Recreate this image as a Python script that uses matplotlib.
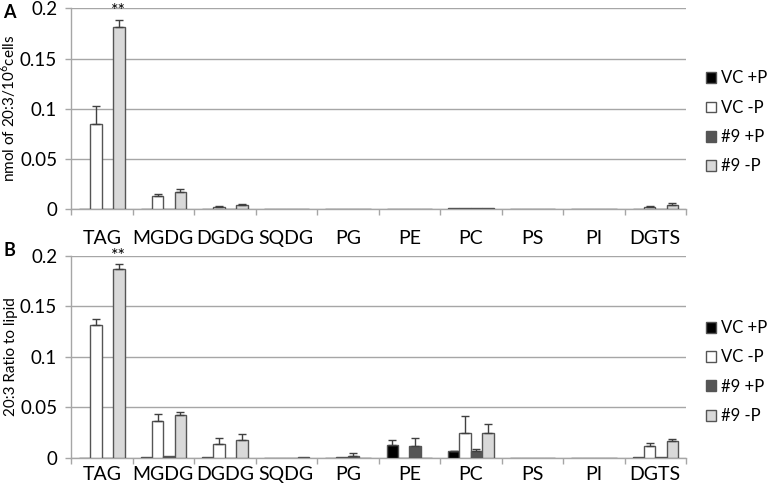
import matplotlib.pyplot as plt
import numpy as np

plt.rcParams['font.family'] = ['Lato', 'DejaVu Sans']
plt.rcParams['mathtext.fontset'] = 'custom'
plt.rcParams['mathtext.rm'] = 'Lato'

lipids = ['TAG', 'MGDG', 'DGDG', 'SQDG', 'PG', 'PE', 'PC', 'PS', 'PI', 'DGTS']
groups = ['VC +P', 'VC -P', '#9 +P', '#9 -P']
fills = ['#000000', '#ffffff', '#555555', '#d9d9d9']

# panel A: nmol of 20:3 / 10^6 cells
a_vc_plus = [0, 0.0005, 0.0005, 0, 0, 0.0005, 0.001, 0, 0, 0.0005]
a_vc_minus = [0.085, 0.013, 0.0025, 0, 0.0005, 0.0003, 0.001, 0, 0, 0.0025]
a_9_plus = [0, 0.0005, 0.0005, 0, 0.0005, 0.0005, 0.001, 0, 0, 0.0005]
a_9_minus = [0.181, 0.017, 0.004, 0.0005, 0, 0.0003, 0.001, 0, 0, 0.0045]
a_err_vc_minus = [0.018, 0.0025, 0.0005, 0, 0, 0, 0, 0, 0, 0.001]
a_err_9_minus = [0.007, 0.003, 0.001, 0, 0, 0, 0, 0, 0, 0.0015]

# panel B: 20:3 ratio to lipid
b_vc_plus = [0, 0.001, 0.001, 0, 0, 0.0123, 0.0063, 0, 0, 0.0005]
b_vc_minus = [0.1317, 0.0366, 0.0136, 0, 0.0005, 0, 0.0242, 0, 0, 0.0119]
b_9_plus = [0, 0.0015, 0, 0, 0.002, 0.0116, 0.007, 0, 0, 0.001]
b_9_minus = [0.1868, 0.042, 0.0175, 0.0005, 0, 0, 0.0248, 0, 0, 0.0162]
b_err_vc_plus = [0, 0, 0, 0, 0, 0.0052, 0.0007, 0, 0, 0]
b_err_vc_minus = [0.0056, 0.0067, 0.0059, 0, 0, 0, 0.0171, 0, 0, 0.0024]
b_err_9_plus = [0, 0, 0, 0, 0.0024, 0.0076, 0.0013, 0, 0, 0]
b_err_9_minus = [0.0047, 0.003, 0.006, 0, 0, 0, 0.0086, 0, 0, 0.002]

fig = plt.figure(figsize=(7.67, 4.92), dpi=100)
ax_a = fig.add_axes([0.0926, 0.5746, 0.8018, 0.4085])
ax_b = fig.add_axes([0.0926, 0.0697, 0.8018, 0.4106])

grid_c = '#a6a6a6'
edge_c = '#555555'
width = 0.185
x = np.arange(len(lipids))


def draw(ax, series, errs, ylabel, star_y, xpad, legend_y):
    for i, (vals, col) in enumerate(zip(series, fills)):
        pos = x + (i - 1.5) * width
        ax.bar(pos, vals, width, color=col, edgecolor=edge_c, linewidth=1.0,
               label=groups[i], zorder=3)
        e = errs[i]
        if e is not None:
            mask = np.array(e) > 0
            ax.errorbar(pos[mask], np.array(vals)[mask],
                        yerr=[np.zeros(mask.sum()), np.array(e)[mask]],
                        fmt='none', ecolor='#404040', elinewidth=1.0,
                        capsize=3, capthick=1.0, zorder=4)
    ax.set_xlim(-0.5, len(lipids) - 0.5)
    ax.set_ylim(0, 0.2)
    ax.set_yticks([0, 0.05, 0.1, 0.15, 0.2])
    ax.set_yticklabels(['0', '0.05', '0.1', '0.15', '0.2'])
    ax.set_xticks(x)
    ax.set_xticklabels(lipids)
    ax.set_xticks(np.arange(-0.5, len(lipids)), minor=True)
    ax.tick_params(axis='x', which='major', length=0, pad=xpad, labelsize=14)
    ax.tick_params(axis='x', which='minor', length=4, color=grid_c, width=1)
    ax.tick_params(axis='y', length=4, color=grid_c, width=1, labelsize=13.5,
                   pad=6)
    ax.yaxis.grid(True, color=grid_c, linewidth=1.0, zorder=0)
    ax.set_axisbelow(True)
    for s in ['top', 'right']:
        ax.spines[s].set_visible(False)
    for s in ['left', 'bottom']:
        ax.spines[s].set_color(grid_c)
        ax.spines[s].set_linewidth(1.0)
    ax.set_ylabel(ylabel, fontsize=11)
    ax.yaxis.set_label_coords(-0.086, 0.5)
    ax.text(x[0] + 1.5 * width, star_y, '**', ha='center', va='bottom',
            fontsize=13, zorder=5)
    leg = ax.legend(loc='center left', bbox_to_anchor=(1.032, legend_y),
                    frameon=False, fontsize=12, handlelength=0.62,
                    handleheight=0.62, handletextpad=0.3, labelspacing=0.8,
                    borderaxespad=0, borderpad=0)
    for p in leg.get_patches():
        p.set_edgecolor(edge_c)


draw(ax_a, [a_vc_plus, a_vc_minus, a_9_plus, a_9_minus],
     [None, a_err_vc_minus, None, a_err_9_minus],
     'nmol of 20:3/10$^{6}$cells', 0.189, 15, 0.432)
draw(ax_b, [b_vc_plus, b_vc_minus, b_9_plus, b_9_minus],
     [b_err_vc_plus, b_err_vc_minus, b_err_9_plus, b_err_9_minus],
     '20:3 Ratio to lipid', 0.192, 6, 0.424)

fig.text(0.004, 0.975, 'A', fontsize=13, fontweight='bold', va='center')
fig.text(0.004, 0.49, 'B', fontsize=13, fontweight='bold', va='center')

fig.savefig('out.png', dpi=100)
